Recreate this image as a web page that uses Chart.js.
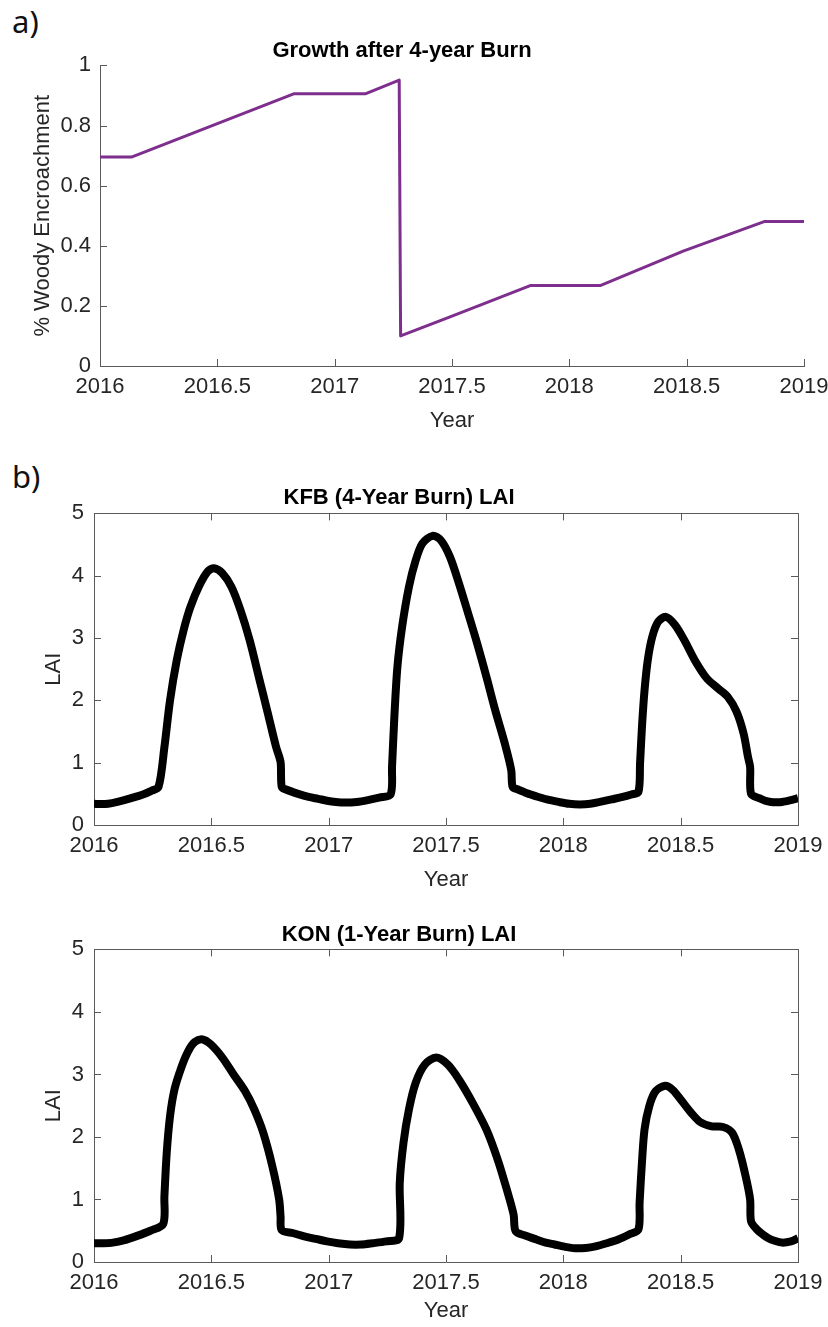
<!DOCTYPE html>
<html>
<head>
<meta charset="utf-8">
<script src="https://cdn.jsdelivr.net/npm/chart.js@4.4.0/dist/chart.umd.min.js"></script>
<style>
  html, body { margin: 0; padding: 0; background: #fff; }
  body { width: 828px; height: 1327px; position: relative; overflow: hidden; }
  .panel { position: absolute; left: 0; width: 828px; }
  .tag { position: absolute; font-family: 'Noto Sans', sans-serif; font-size: 31px; line-height: 30px; color: #111; }
</style>
</head>
<body>
<div class="tag" style="left:12px; top:6px">a)</div>
<div class="tag" style="left:12px; top:461px">b)</div>
<div class="panel" style="top:0; height:440px"><canvas id="woodyChart"></canvas></div>
<div class="panel" style="top:455px; height:440px"><canvas id="kfbChart"></canvas></div>
<div class="panel" style="top:895px; height:432px"><canvas id="konChart"></canvas></div>
<script>
// x axis (years)
const xTickValues = [2016, 2016.5, 2017, 2017.5, 2018, 2018.5, 2019]
const xTickLabels = ['2016', '2016.5', '2017', '2017.5', '2018', '2018.5', '2019']

// a) woody encroachment
const woodyTickValues = [0, 0.2, 0.4, 0.6, 0.8, 1]
const woodyTickLabels = ['0', '0.2', '0.4', '0.6', '0.8', '1']
const woodyYear = [2016, 2016.134, 2016.5, 2016.828, 2017.133, 2017.275, 2017.281, 2017.5, 2017.836, 2018.134, 2018.485, 2018.833, 2019]
const woodyValue = [0.695, 0.695, 0.806, 0.906, 0.906, 0.951, 0.100, 0.166, 0.268, 0.268, 0.382, 0.481, 0.481]

// b) LAI
const laiTickValues = [0, 1, 2, 3, 4, 5]
const laiTickLabels = ['0', '1', '2', '3', '4', '5']

const kfbYear = [2016, 2016.03, 2016.06, 2016.10, 2016.14, 2016.18, 2016.217, 2016.245, 2016.275, 2016.30, 2016.324, 2016.353, 2016.382, 2016.411, 2016.45, 2016.485, 2016.512,
  2016.547, 2016.586, 2016.624, 2016.663, 2016.702, 2016.741, 2016.776, 2016.795, 2016.80,
  2016.818, 2016.87, 2016.915, 2016.955, 2016.993, 2017.03, 2017.07, 2017.12, 2017.167, 2017.215, 2017.264,
  2017.27, 2017.28, 2017.293, 2017.313, 2017.342, 2017.371, 2017.40, 2017.443,
  2017.478, 2017.516, 2017.555, 2017.594, 2017.633, 2017.672, 2017.71, 2017.749, 2017.778, 2017.784,
  2017.807, 2017.845, 2017.885, 2017.93, 2017.98, 2018.025, 2018.07, 2018.115, 2018.156, 2018.205, 2018.253, 2018.29, 2018.32,
  2018.327, 2018.335, 2018.346, 2018.36, 2018.379, 2018.404, 2018.437,
  2018.476, 2018.515, 2018.564, 2018.612, 2018.66, 2018.70, 2018.738, 2018.768, 2018.787, 2018.796, 2018.80,
  2018.835, 2018.86, 2018.884, 2018.908, 2018.932, 2018.97, 2019]
const kfbLai = [0.34, 0.335, 0.34, 0.37, 0.41, 0.455, 0.50, 0.55, 0.61, 1.25, 2.00, 2.65, 3.13, 3.50, 3.85, 4.07, 4.12,
  4.04, 3.82, 3.45, 2.97, 2.38, 1.79, 1.25, 1.01, 0.61,
  0.57, 0.50, 0.45, 0.42, 0.39, 0.37, 0.36, 0.37, 0.40, 0.44, 0.49,
  0.93, 1.74, 2.54, 3.18, 3.82, 4.25, 4.52, 4.64,
  4.57, 4.31, 3.88, 3.40, 2.91, 2.38, 1.84, 1.33, 0.88, 0.61,
  0.57, 0.51, 0.46, 0.41, 0.37, 0.34, 0.33, 0.34, 0.37, 0.41, 0.45, 0.49, 0.53,
  0.99, 1.57, 2.16, 2.65, 3.02, 3.26, 3.34,
  3.21, 2.97, 2.62, 2.35, 2.19, 2.06, 1.82, 1.47, 1.09, 0.93, 0.50,
  0.43, 0.39, 0.37, 0.365, 0.37, 0.40, 0.43]

const konYear = [2016, 2016.04, 2016.08, 2016.13, 2016.178, 2016.24, 2016.295, 2016.30, 2016.31, 2016.324, 2016.343, 2016.372, 2016.401, 2016.43, 2016.463,
  2016.498, 2016.547, 2016.595, 2016.644, 2016.683, 2016.721, 2016.76, 2016.789, 2016.795, 2016.80,
  2016.85, 2016.896, 2016.945, 2016.993, 2017.04, 2017.09, 2017.14, 2017.187, 2017.245, 2017.30,
  2017.303, 2017.319, 2017.342, 2017.371, 2017.41, 2017.458,
  2017.507, 2017.555, 2017.613, 2017.672, 2017.72, 2017.759, 2017.788, 2017.797,
  2017.84, 2017.885, 2017.925, 2017.962, 2018.005, 2018.05, 2018.095, 2018.137, 2018.185, 2018.234, 2018.28, 2018.32,
  2018.325, 2018.335, 2018.346, 2018.366, 2018.393, 2018.434,
  2018.467, 2018.506, 2018.544, 2018.583, 2018.632, 2018.68, 2018.719, 2018.748, 2018.777, 2018.796, 2018.80,
  2018.825, 2018.85, 2018.874, 2018.90, 2018.932, 2018.97, 2019]
const konLai = [0.30, 0.30, 0.31, 0.35, 0.41, 0.50, 0.61, 1.05, 1.75, 2.33, 2.76, 3.11, 3.37, 3.52, 3.56,
  3.48, 3.27, 3.00, 2.73, 2.44, 2.07, 1.53, 1.00, 0.73, 0.51,
  0.46, 0.41, 0.37, 0.33, 0.30, 0.28, 0.28, 0.30, 0.33, 0.38,
  1.27, 1.91, 2.44, 2.87, 3.16, 3.27,
  3.16, 2.92, 2.55, 2.12, 1.64, 1.16, 0.76, 0.49,
  0.42, 0.36, 0.31, 0.28, 0.245, 0.22, 0.225, 0.25, 0.30, 0.36, 0.44, 0.52,
  0.95, 1.59, 2.12, 2.49, 2.73, 2.82,
  2.75, 2.57, 2.39, 2.24, 2.17, 2.16, 2.07, 1.80, 1.37, 1.00, 0.65,
  0.52, 0.44, 0.38, 0.34, 0.31, 0.33, 0.38]

const FONT = "'Liberation Sans', Arial, Helvetica, sans-serif"
const AXIS = '#5a5a5a'
const TEXT = '#262626'

// matlab style ticks pointing into the plot
const inwardTicks = {
    id: 'inwardTicks',
    afterDatasetsDraw(chart, args, opts) {
        const { ctx, chartArea: a, scales: { x, y } } = chart
        const len = 7
        ctx.save()
        ctx.strokeStyle = AXIS
        ctx.lineWidth = 1
        ctx.beginPath()
        x.ticks.forEach(t => {
            const px = Math.round(x.getPixelForValue(t.value)) + 0.5
            ctx.moveTo(px, a.bottom); ctx.lineTo(px, a.bottom - len)
            if (opts.box) { ctx.moveTo(px, a.top); ctx.lineTo(px, a.top + len) }
        })
        y.ticks.forEach(t => {
            const py = Math.round(y.getPixelForValue(t.value)) + 0.5
            ctx.moveTo(a.left, py); ctx.lineTo(a.left + len, py)
            if (opts.box) { ctx.moveTo(a.right, py); ctx.lineTo(a.right - len, py) }
        })
        if (opts.box) {
            const t = Math.round(a.top) + 0.5, r = Math.round(a.right) + 0.5
            ctx.moveTo(a.left, t); ctx.lineTo(r, t); ctx.lineTo(r, a.bottom)
        }
        ctx.stroke()
        ctx.restore()
    }
}

const makeChart = (id, cfg) => {
    const data = cfg.xs.map((v, i) => ({ x: v, y: cfg.ys[i] }))
    return new Chart(document.getElementById(id), {
        type: 'line',
        data: {
            datasets: [{
                data: data,
                borderColor: cfg.color,
                borderWidth: cfg.width,
                pointRadius: 0,
                borderJoinStyle: 'round',
                tension: cfg.tension,
                clip: 0,
            }]
        },
        options: {
            responsive: true,
            maintainAspectRatio: false,
            animation: false,
            layout: { padding: cfg.padding },
            scales: {
                x: {
                    type: 'linear',
                    min: 2016,
                    max: 2019,
                    grid: { display: false, drawTicks: false },
                    border: { color: AXIS, width: 1 },
                    afterBuildTicks: s => { s.ticks = xTickValues.map(v => ({ value: v })) },
                    afterFit: s => {
                        s.height = cfg.xHeight
                        // let the layout padding alone decide the plot edges
                        s.paddingLeft = 0
                        s.paddingRight = 0
                    },
                    ticks: {
                        padding: 8,
                        color: TEXT,
                        maxRotation: 0,
                        autoSkip: false,
                        font: { family: FONT, size: 22 },
                        callback: (v, i) => xTickLabels[i]
                    },
                    title: {
                        display: true,
                        text: 'Year',
                        color: TEXT,
                        padding: { top: 0, bottom: 0 },
                        font: { family: FONT, size: 22, lineHeight: 1.2 }
                    }
                },
                y: {
                    min: cfg.yTicks[0],
                    max: cfg.yTicks[cfg.yTicks.length - 1],
                    grid: { display: false, drawTicks: false },
                    border: { color: AXIS, width: 1 },
                    afterBuildTicks: s => { s.ticks = cfg.yTicks.map(v => ({ value: v })) },
                    afterFit: s => { s.width = cfg.yWidth },
                    ticks: {
                        padding: cfg.yPad,
                        color: TEXT,
                        autoSkip: false,
                        font: { family: FONT, size: 22 },
                        callback: (v, i) => cfg.yLabels[i]
                    },
                    title: {
                        display: true,
                        text: cfg.yTitle,
                        color: TEXT,
                        padding: { top: cfg.yTitlePad, bottom: 0 },
                        font: { family: FONT, size: 22, lineHeight: 1.2 }
                    }
                }
            },
            plugins: {
                legend: { display: false },
                tooltip: { enabled: false },
                title: {
                    display: true,
                    text: cfg.title,
                    color: '#000',
                    padding: { top: 0, bottom: cfg.titlePad },
                    font: { family: FONT, size: 22, weight: 'bold', lineHeight: 1.2 }
                },
                inwardTicks: { box: cfg.box }
            }
        },
        plugins: [inwardTicks]
    })
}

makeChart('woodyChart', {
    xs: woodyYear, ys: woodyValue, color: '#7E2F8E', width: 3, tension: 0,
    padding: { top: 38, left: 0, right: 24, bottom: 6 },
    title: 'Growth after 4-year Burn', titlePad: 1,
    yTicks: woodyTickValues, yLabels: woodyTickLabels, yTitle: '% Woody Encroachment',
    yWidth: 100, yPad: 9, yTitlePad: 30, xHeight: 68, box: false
})

makeChart('kfbChart', {
    xs: kfbYear, ys: kfbLai, color: '#000', width: 8, tension: 0.3,
    padding: { top: 30, left: 0, right: 30, bottom: 2 },
    title: 'KFB (4-Year Burn) LAI', titlePad: 2,
    yTicks: laiTickValues, yLabels: laiTickLabels, yTitle: 'LAI',
    yWidth: 94, yPad: 10, yTitlePad: 41, xHeight: 68, box: true
})

makeChart('konChart', {
    xs: konYear, ys: konLai, color: '#000', width: 8, tension: 0.3,
    padding: { top: 27, left: 0, right: 30, bottom: 3 },
    title: 'KON (1-Year Burn) LAI', titlePad: 1,
    yTicks: laiTickValues, yLabels: laiTickLabels, yTitle: 'LAI',
    yWidth: 94, yPad: 10, yTitlePad: 41, xHeight: 62, box: true
})
</script>
</body>
</html>
